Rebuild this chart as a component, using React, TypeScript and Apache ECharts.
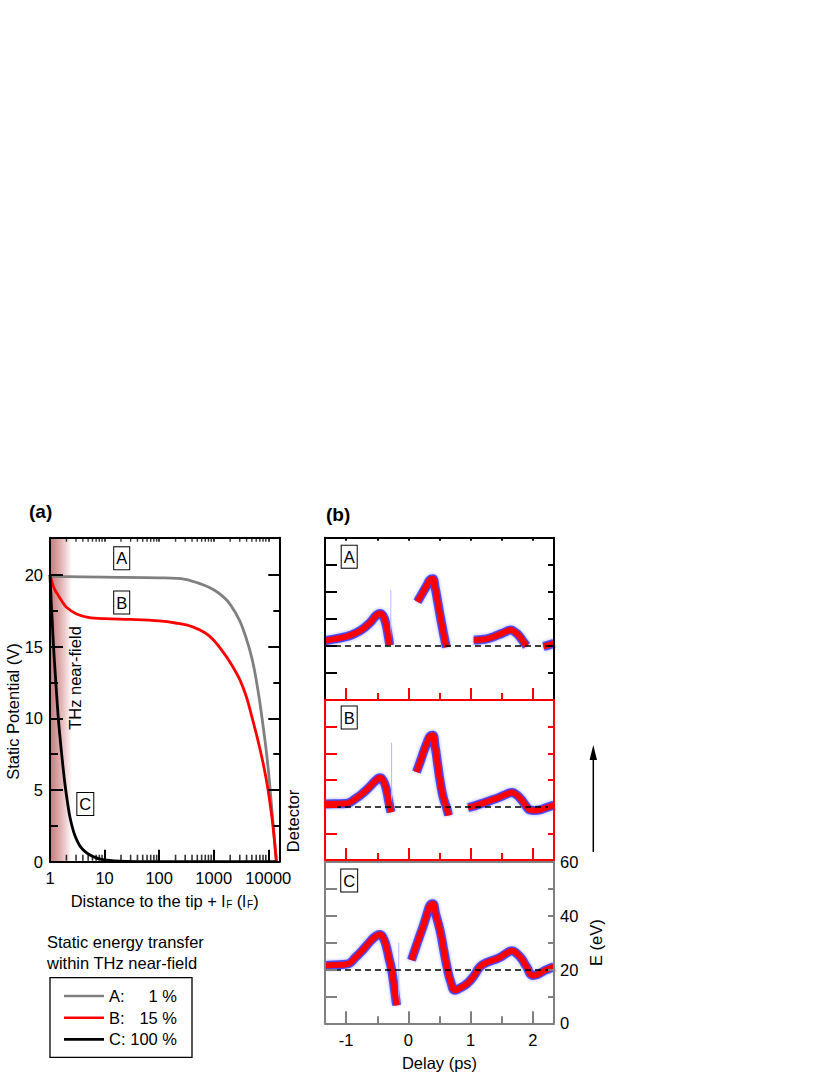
import React, { useEffect, useRef } from 'react';
import * as echarts from 'echarts';

const FONT = '"Liberation Sans", Arial, Helvetica, sans-serif';

// ---------- Panel (a): static potential vs distance ----------
const distanceA = [1, 10, 100, 300, 600, 1000, 1500, 2000, 3000, 4000, 5000, 6000, 7000, 8000, 9000, 10000, 11000, 12000, 13000, 14200];
const potentialA = [19.9, 19.85, 19.8, 19.7, 19.35, 18.97, 18.47, 17.95, 16.8, 15.5, 14.2, 12.7, 11.1, 9.5, 8.0, 6.4, 4.7, 3.0, 1.5, 0];
const distanceB = [1, 1.1, 1.2, 1.4, 1.7, 2, 3, 5, 10, 30, 100, 200, 400, 700, 1000, 1500, 2000, 3000, 4000, 5000, 6000, 7000, 8000, 9000, 10000, 11000, 12000, 13000, 14000];
const potentialB = [20, 19.45, 19.05, 18.6, 18.1, 17.75, 17.3, 17.05, 16.95, 16.9, 16.8, 16.65, 16.4, 15.95, 15.45, 14.6, 13.9, 12.7, 11.45, 10.1, 8.95, 7.9, 6.9, 5.9, 4.9, 3.8, 2.7, 1.4, 0];
const distanceC = [1, 1.05, 1.1, 1.15, 1.2, 1.3, 1.42, 1.55, 1.7, 1.88, 2.1, 2.32, 2.7, 3.1, 3.6, 4.4, 5.5, 6.7, 8, 10, 15, 25, 50, 14000];
const potentialC = [20, 18.2, 16.7, 15.3, 14.1, 12.1, 10.0, 8.4, 6.9, 5.4, 4.1, 3.1, 2.1, 1.5, 1.05, 0.7, 0.45, 0.3, 0.2, 0.13, 0.06, 0.02, 0, 0];

const legendNames = ['A', 'B', 'C'];
const legendPercents = ['1 %', '15 %', '100 %'];
const curveColors = ['#808080', '#ff0000', '#000000'];

const distanceMin = 1;
const distanceMax = 15900;
const potentialMax = 22.6;
const potentialTicks = [0, 5, 10, 15, 20];
const potentialMinorTicks = [2.5, 7.5, 12.5, 17.5];
const logMinorTicks = [
  2, 3, 4, 5, 6, 7, 8, 9,
  20, 30, 40, 50, 60, 70, 80, 90,
  200, 300, 400, 500, 600, 700, 800, 900,
  2000, 3000, 4000, 5000, 6000, 7000, 8000, 9000,
];
const nearFieldRange = [1, 2.55];

// ---------- Panel (b): energy vs delay ----------
const delayMin = -1.34;
const delayMax = 2.34;
const delayTicks = [-1, 0, 1, 2];
const delayMinorTicks = [-0.5, 0.5, 1.5];
const delayAllTicks = [-1, -0.5, 0, 0.5, 1, 1.5, 2];
const energyMax = 60;
const energyTicks = [10, 20, 30, 40, 50];
const energyLabels = [0, 20, 40, 60];
const energyReference = 20;

const delayA = [
  [-1.34, -1.2, -1.0, -0.85, -0.72, -0.6, -0.52, -0.46, -0.41, -0.36, -0.33, -0.3],
  [0.146, 0.2, 0.25, 0.3, 0.35, 0.39, 0.43, 0.47, 0.52, 0.57, 0.61],
  [1.05, 1.15, 1.26, 1.37, 1.47, 1.56, 1.64, 1.72, 1.79, 1.85, 1.9],
  [2.17, 2.25, 2.34],
];
const energyA = [
  [21.9, 22.5, 23.4, 24.7, 26.5, 29, 31.2, 32, 31.2, 28, 24.5, 20.3],
  [36.3, 38.5, 40.5, 42.5, 44.5, 44.8, 41.5, 36.5, 30, 24, 19.5],
  [22.2, 22.3, 22.6, 23.4, 24.3, 25.2, 25.9, 25.0, 23.4, 21.5, 20],
  [19.8, 20.3, 21],
];
const delayB = [
  [-1.34, -1.2, -1.0, -0.85, -0.72, -0.6, -0.52, -0.46, -0.41, -0.36, -0.32, -0.28],
  [0.13, 0.2, 0.25, 0.3, 0.35, 0.39, 0.43, 0.47, 0.51, 0.56, 0.62, 0.645],
  [0.96, 1.05, 1.15, 1.25, 1.34, 1.45, 1.56, 1.66, 1.74, 1.82, 1.88, 1.95, 2.03, 2.11, 2.2, 2.34],
];
const energyB = [
  [21, 21.1, 21.2, 23, 25.3, 28, 29.9, 30.8, 30, 27, 22.5, 17.9],
  [33, 37.5, 41, 44, 46.5, 46.8, 42.5, 36, 29.6, 23.5, 19.1, 16.7],
  [19.7, 20.2, 21, 21.7, 22.5, 23.4, 24.5, 25.3, 24.4, 22.5, 20.6, 18.8, 18.6, 18.8, 19.5, 20.6],
];
const delayC = [
  [-1.34, -1.2, -0.99, -0.85, -0.72, -0.6, -0.52, -0.46, -0.41, -0.36, -0.31, -0.27, -0.22, -0.19],
  [0.05, 0.1, 0.19, 0.25, 0.31, 0.35, 0.39, 0.44, 0.51, 0.57, 0.62, 0.68, 0.75, 0.82, 0.94, 1.05, 1.15, 1.25, 1.34, 1.47, 1.56, 1.66, 1.74, 1.82, 1.9, 2.0, 2.08, 2.17, 2.25, 2.34],
];
const energyC = [
  [21.5, 21.7, 22, 24.5, 27.6, 30.8, 32.5, 33, 32, 29, 24, 20, 12, 6.7],
  [23.5, 27, 33, 37, 41.5, 44, 44.5, 40.5, 34.4, 27, 21, 15.5, 12.3, 13, 14.7, 17.5, 21, 22.5, 23.3, 24.5, 25.8, 27, 26, 24, 21, 17.8, 18.2, 19.4, 20.2, 21],
];
const faintDelay = [-0.283, -0.27, -0.155];
const faintTop = [40.7, 44, 30];
const faintBottom = [20, 18, 7];

const panelDelays = [delayA, delayB, delayC];
const panelEnergies = [energyA, energyB, energyC];
const panelColors = ['#000000', '#ff0000', '#808080'];
const panelLabels = ['A', 'B', 'C'];

function segmentsToData(ts: number[][], es: number[][]) {
  const out: any[] = [];
  ts.forEach((seg, si) => {
    if (si > 0) out.push([null, null]);
    seg.forEach((t, i) => out.push([t, es[si][i]]));
  });
  return out;
}

function logLabel(v: number) {
  const l = Math.log10(v);
  return Math.abs(l - Math.round(l)) < 1e-6 ? String(Math.round(v)) : '';
}

function buildOption(): any {
  const txt = { fontFamily: FONT, fontSize: 16.5, color: '#000' };
  const grids = [
    { left: 50, top: 537.7, width: 229.3, height: 324 },
    { left: 325, top: 537.7, width: 229, height: 162.3 },
    { left: 325, top: 700, width: 229, height: 160 },
    { left: 325, top: 862, width: 229, height: 161.3 },
  ];

  const xAxis: any[] = [];
  const yAxis: any[] = [];

  // panel (a) axes
  xAxis.push({
    gridIndex: 0, type: 'log', logBase: 10, min: distanceMin, max: distanceMax, position: 'bottom', z: 10,
    axisLine: { show: true, onZero: false, lineStyle: { color: '#000', width: 2 } },
    axisTick: { show: true, inside: true, length: 12, lineStyle: { color: '#000', width: 2 } },
    axisLabel: { show: true, margin: 8, showMaxLabel: false, formatter: logLabel, ...txt },
    splitLine: { show: false },
    name: 'Distance to the tip + l{s|F} (l{s|F})',
    nameLocation: 'middle', nameGap: 30,
    nameTextStyle: { ...txt, rich: { s: { fontFamily: FONT, fontSize: 10, color: '#000', padding: [8, 0, 0, 1] } } },
  });
  xAxis.push({
    gridIndex: 0, type: 'log', logBase: 10, min: distanceMin, max: distanceMax, position: 'top', z: 10,
    axisLine: { show: true, onZero: false, lineStyle: { color: '#000', width: 2 } },
    axisTick: { show: true, inside: true, length: 4, lineStyle: { color: '#000', width: 1.5 } },
    axisLabel: { show: false }, splitLine: { show: false },
  });
  const aY = (position: string, ticks: number[], len: number, line: boolean, labels: boolean) => ({
    gridIndex: 0, type: 'value', min: 0, max: potentialMax, position, z: 10,
    axisLine: { show: line, onZero: false, lineStyle: { color: '#000', width: 2 } },
    axisTick: { show: true, inside: true, length: len, customValues: ticks, lineStyle: { color: '#000', width: 2 } },
    axisLabel: labels ? { show: true, customValues: potentialTicks, margin: 7, ...txt } : { show: false },
    splitLine: { show: false },
  });
  yAxis.push(aY('left', potentialTicks, 13, true, true));
  yAxis.push(aY('left', potentialMinorTicks, 8, false, false));
  yAxis.push(aY('right', potentialTicks, 11, true, false));
  yAxis.push(aY('right', potentialMinorTicks, 6, false, false));

  // panel (b) axes
  const bx = (grid: number, position: string, o: any) => ({
    gridIndex: grid, type: 'value', min: delayMin, max: delayMax, position, z: 10,
    axisLine: { show: !!o.line, onZero: false, lineStyle: { color: o.line || '#000', width: 2 } },
    axisTick: o.ticks
      ? { show: true, inside: o.inside !== false, length: o.len, customValues: o.ticks, lineStyle: { color: o.tickColor, width: 2 } }
      : { show: false },
    axisLabel: o.labels ? { show: true, customValues: o.labels, margin: 8, ...txt } : { show: false },
    splitLine: { show: false },
    ...(o.name ? { name: o.name, nameLocation: 'middle', nameGap: 31, nameTextStyle: { ...txt } } : {}),
  });
  const by = (grid: number, position: string, o: any) => ({
    gridIndex: grid, type: 'value', min: 0, max: energyMax, position, z: 10,
    axisLine: { show: true, onZero: false, lineStyle: { color: o.color, width: 2 } },
    axisTick: { show: true, inside: true, length: o.len, customValues: energyTicks, lineStyle: { color: o.color, width: 2 } },
    axisLabel: o.labels ? { show: true, customValues: o.labels, margin: 6, ...txt } : { show: false },
    splitLine: { show: false },
    ...(o.name ? { name: o.name, nameLocation: 'middle', nameGap: 33, nameTextStyle: { ...txt } } : {}),
  });

  // grid 1 (A)
  const xA_bot = xAxis.length; xAxis.push(bx(1, 'bottom', { ticks: delayTicks, len: 12, tickColor: '#ff0000' }));
  xAxis.push(bx(1, 'bottom', { ticks: delayMinorTicks, len: 7, tickColor: '#ff0000' }));
  xAxis.push(bx(1, 'top', { line: '#000', ticks: delayAllTicks, len: 3, tickColor: '#000' }));
  // grid 2 (B)
  xAxis.push(bx(2, 'top', { line: '#ff0000' }));
  const xB_bot = xAxis.length; xAxis.push(bx(2, 'bottom', { line: '#ff0000', ticks: delayTicks, len: 12, tickColor: '#ff0000' }));
  xAxis.push(bx(2, 'bottom', { ticks: delayMinorTicks, len: 7, tickColor: '#ff0000' }));
  // grid 3 (C)
  xAxis.push(bx(3, 'top', { line: '#808080' }));
  const xC_bot = xAxis.length; xAxis.push(bx(3, 'bottom', { line: '#808080', ticks: delayTicks, len: 12, tickColor: '#808080', labels: delayTicks, name: 'Delay (ps)' }));
  xAxis.push(bx(3, 'bottom', { ticks: delayMinorTicks, len: 7, tickColor: '#808080' }));

  const yA_left = yAxis.length; yAxis.push(by(1, 'left', { color: panelColors[0], len: 12 }));
  yAxis.push(by(1, 'right', { color: panelColors[0], len: 6 }));
  const yB_left = yAxis.length; yAxis.push(by(2, 'left', { color: panelColors[1], len: 12 }));
  yAxis.push(by(2, 'right', { color: panelColors[1], len: 6 }));
  const yC_left = yAxis.length; yAxis.push(by(3, 'left', { color: panelColors[2], len: 12 }));
  yAxis.push(by(3, 'right', { color: panelColors[2], len: 6, labels: energyLabels, name: 'E (eV)' }));

  const series: any[] = [];
  const distances = [distanceA, distanceB, distanceC];
  const potentials = [potentialA, potentialB, potentialC];
  legendNames.forEach((n, i) => {
    series.push({
      type: 'line', name: n, xAxisIndex: 0, yAxisIndex: 0,
      data: distances[i].map((d, k) => [d, potentials[i][k]]),
      symbol: 'none', smooth: 0.35, silent: true, z: 3,
      lineStyle: { color: curveColors[i], width: 2.8 },
      itemStyle: { color: curveColors[i] },
      ...(i === 2
        ? {
            markArea: {
              silent: true,
              itemStyle: {
                color: new echarts.graphic.LinearGradient(0, 0, 1, 0, [
                  { offset: 0, color: '#c47a7c' },
                  { offset: 0.5, color: '#e2b3b4' },
                  { offset: 1, color: '#ffffff' },
                ]),
              },
              data: [[{ xAxis: nearFieldRange[0] }, { xAxis: nearFieldRange[1] }]],
            },
          }
        : {}),
    });
  });
  // minor log ticks (bottom and top)
  series.push({
    type: 'scatter', name: 'minorBottom', xAxisIndex: 0, yAxisIndex: 0, silent: true, clip: false, z: 11,
    data: logMinorTicks.map((v) => [v, 0]),
    symbol: 'rect', symbolSize: [1.6, 6], symbolOffset: [0, -4], itemStyle: { color: '#000' },
  });
  series.push({
    type: 'scatter', name: 'minorTop', xAxisIndex: 0, yAxisIndex: 0, silent: true, clip: false, z: 11,
    data: logMinorTicks.map((v) => [v, potentialMax]),
    symbol: 'rect', symbolSize: [1.4, 3], symbolOffset: [0, 2.5], itemStyle: { color: '#000' },
  });

  const xIdx = [xA_bot, xB_bot, xC_bot];
  const yIdx = [yA_left, yB_left, yC_left];
  panelDelays.forEach((ts, p) => {
    const data = segmentsToData(ts, panelEnergies[p]);
    series.push({
      type: 'line', name: 'glow' + p, xAxisIndex: xIdx[p], yAxisIndex: yIdx[p], data,
      symbol: 'none', smooth: 0.5, silent: true, z: 2,
      lineStyle: { color: '#1a1aff', width: 9, opacity: 0.7, join: 'round', shadowColor: 'rgba(40,40,255,0.6)', shadowBlur: 3 },
      markLine: {
        silent: true, symbol: 'none', label: { show: false },
        lineStyle: { color: '#000', type: [6, 4], width: 1.5 },
        data: [{ yAxis: energyReference }],
      },
    });
    series.push({
      type: 'line', name: 'band' + p, xAxisIndex: xIdx[p], yAxisIndex: yIdx[p], data,
      symbol: 'none', smooth: 0.5, silent: true, z: 3,
      lineStyle: { color: '#ff0000', width: 6, join: 'round' },
    });
    series.push({
      type: 'line', name: 'faint' + p, xAxisIndex: xIdx[p], yAxisIndex: yIdx[p],
      data: [[faintDelay[p], faintTop[p]], [faintDelay[p], faintBottom[p]]],
      symbol: 'none', silent: true, z: 2,
      lineStyle: { color: '#b4b8ff', width: 1 },
    });
  });

  const boxed = (text: string, x: number, y: number) => ({
    type: 'text', x, y, z: 20,
    style: {
      text, fontFamily: FONT, fontSize: 16.5, fill: '#000',
      align: 'center', verticalAlign: 'middle',
      backgroundColor: '#fff', borderColor: '#000', borderWidth: 1, padding: [3, 2, 2, 2],
    },
  });
  const plain = (text: string, x: number, y: number, extra: any = {}, el: any = {}) => ({
    type: 'text', x, y, z: 20, ...el,
    style: { text, fontFamily: FONT, fontSize: 16.5, fill: '#000', align: 'left', verticalAlign: 'middle', ...extra },
  });

  const graphic: any[] = [
    plain('(a)', 29, 511, { fontWeight: 'bold', fontSize: 19 }),
    plain('(b)', 326, 514, { fontWeight: 'bold', fontSize: 19 }),
    plain('THz near-field', 75, 678, { align: 'center' }, { rotation: Math.PI / 2 }),
    plain('Static Potential (V)', 13, 711.5, { align: 'center' }, { rotation: Math.PI / 2 }),
    plain('Detector', 293, 821, { align: 'center' }, { rotation: Math.PI / 2 }),
    boxed(panelLabels[0], 121.7, 558.3),
    boxed(panelLabels[1], 121.7, 602.5),
    boxed(panelLabels[2], 85.3, 804),
    boxed(panelLabels[0], 349.2, 556.7),
    boxed(panelLabels[1], 349.2, 717.5),
    boxed(panelLabels[2], 349.2, 880.5),
    plain('Static energy transfer', 47, 941.7),
    plain('within THz near-field', 47, 962.7),
    { type: 'line', z: 20, shape: { x1: 593.3, y1: 852, x2: 593.3, y2: 757 }, style: { stroke: '#000', lineWidth: 1.5 } },
    { type: 'polygon', z: 20, shape: { points: [[593.3, 745], [589.6, 760], [597, 760]] }, style: { fill: '#000' } },
  ];

  return {
    animation: false,
    backgroundColor: '#ffffff',
    textStyle: { fontFamily: FONT },
    grid: grids.map((g) => ({ ...g, containLabel: false, outerBoundsMode: 'none' })),
    xAxis,
    yAxis,
    series,
    graphic,
    legend: {
      data: legendNames, left: 50, top: 977.7, orient: 'vertical', selectedMode: false,
      borderColor: '#000', borderWidth: 1.3, padding: [9.3, 15, 9, 14],
      icon: 'rect', itemGap: 3.7, itemWidth: 40, itemHeight: 2.6,
      formatter: (name: string) => `{n|${name}:}{v|${legendPercents[legendNames.indexOf(name)]}}`,
      textStyle: {
        fontFamily: FONT, fontSize: 16.5, color: '#000', lineHeight: 18,
        rich: {
          n: { fontFamily: FONT, fontSize: 16.5, color: '#000', width: 18, lineHeight: 18 },
          v: { fontFamily: FONT, fontSize: 16.5, color: '#000', width: 50, align: 'right', lineHeight: 18 },
        },
      },
    },
  };
}

export default function App() {
  const ref = useRef<HTMLDivElement>(null);
  useEffect(() => {
    if (!ref.current) return;
    const chart = echarts.init(ref.current, undefined, { renderer: 'svg' });
    chart.setOption(buildOption());
    return () => chart.dispose();
  }, []);
  return (
    <div
      ref={ref}
      style={{ position: 'absolute', left: 0, top: 0, width: 830, height: 1075, background: '#fff' }}
    />
  );
}
